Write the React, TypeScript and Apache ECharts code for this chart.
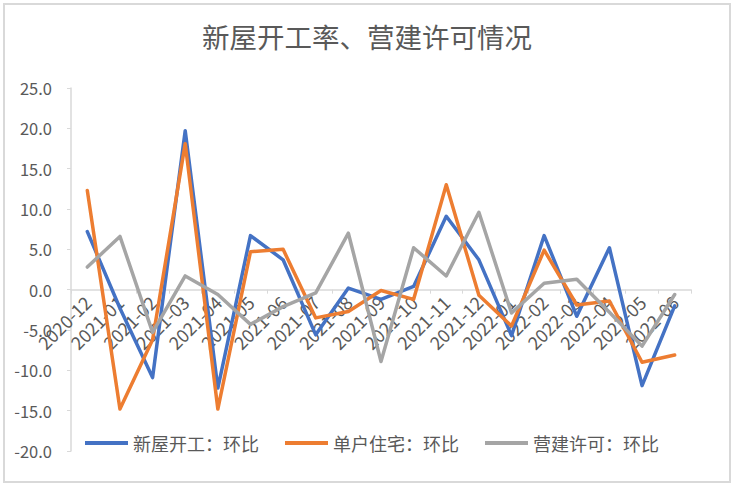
import React, { useRef, useEffect } from 'react';
import * as echarts from 'echarts';

const months = [
  '2020-12', '2021-01', '2021-02', '2021-03', '2021-04', '2021-05', '2021-06',
  '2021-07', '2021-08', '2021-09', '2021-10', '2021-11', '2021-12', '2022-01',
  '2022-02', '2022-03', '2022-04', '2022-05', '2022-06',
];
// 新屋开工：环比
const housingStarts = [7.2, -2.3, -10.9, 19.7, -12.2, 6.7, 3.7, -5.6, 0.2, -1.2, 0.4, 9.1, 3.7, -5.7, 6.7, -3.3, 5.2, -11.9, -2.0];
// 单户住宅：环比
const singleFamily = [12.3, -14.8, -6.2, 18.1, -14.8, 4.7, 5.0, -3.5, -2.7, -0.1, -1.2, 13.0, -0.7, -4.5, 4.9, -1.9, -1.4, -9.0, -8.1];
// 营建许可：环比
const permits = [2.8, 6.6, -5.3, 1.7, -0.6, -4.3, -2.1, -0.4, 7.0, -8.9, 5.2, 1.7, 9.6, -2.9, 0.8, 1.3, -2.8, -7.0, -0.6];

const Y_MIN = -20;
const Y_MAX = 25;

const FONT = '"Noto Sans CJK SC", "Noto Sans", sans-serif';
const TEXT = '#595959';
const LINE = '#d9d9d9';

const W = 734;
const H = 486;
const GRID = { left: 71, right: 43, top: 88, bottom: 35 };

const App: React.FC = () => {
  const chartRef = useRef<HTMLDivElement>(null);

  useEffect(() => {
    if (!chartRef.current) return;
    const chart = echarts.init(chartRef.current, undefined, { renderer: 'svg' });

    const line = (name: string, data: number[], color: string) => ({
      name,
      type: 'line',
      data,
      showSymbol: false,
      symbol: 'none',
      itemStyle: { color },
      lineStyle: { color, width: 3.5, join: 'round', cap: 'round' },
    });

    // 横轴放在 0 值处（Excel 的“坐标轴交叉于 0”）
    const plotH = H - GRID.top - GRID.bottom;
    const zeroOffset = -(plotH * (0 - Y_MIN)) / (Y_MAX - Y_MIN);

    chart.setOption({
      animation: false,
      textStyle: { fontFamily: FONT },
      graphic: [
        {
          type: 'rect',
          shape: { x: 4, y: 4, width: 726, height: 478 },
          style: { fill: 'none', stroke: LINE, lineWidth: 2 },
          silent: true,
        },
      ],
      title: {
        text: '新屋开工率、营建许可情况',
        left: 'center',
        top: 17,
        textStyle: { fontFamily: FONT, fontSize: 27.5, fontWeight: 'normal', color: TEXT },
      },
      legend: {
        left: 80,
        top: 429,
        icon: 'rect',
        itemWidth: 43,
        itemHeight: 4,
        itemGap: 26,
        textStyle: { fontFamily: FONT, fontSize: 18, color: TEXT },
        data: ['新屋开工：环比', '单户住宅：环比', '营建许可：环比'],
      },
      grid: { ...GRID, containLabel: false },
      xAxis: {
        type: 'category',
        data: months,
        boundaryGap: true,
        offset: zeroOffset,
        axisLine: { onZero: false, lineStyle: { color: LINE, width: 1.5 } },
        axisTick: { show: true, length: 4, lineStyle: { color: LINE } },
        axisLabel: { interval: 0, rotate: 45, margin: 9, fontSize: 18, color: TEXT, fontFamily: FONT },
        splitLine: { show: false },
      },
      yAxis: {
        type: 'value',
        min: Y_MIN,
        max: Y_MAX,
        interval: 5,
        axisLine: { show: true, lineStyle: { color: LINE, width: 1.5 } },
        axisTick: { show: true, length: 4, lineStyle: { color: LINE } },
        axisLabel: {
          fontSize: 16.5,
          color: TEXT,
          margin: 19,
          fontFamily: FONT,
          formatter: (v: number) => v.toFixed(1),
        },
        splitLine: { show: false },
      },
      series: [
        line('新屋开工：环比', housingStarts, '#4472C4'),
        line('单户住宅：环比', singleFamily, '#ED7D31'),
        line('营建许可：环比', permits, '#A5A5A5'),
      ],
    });

    return () => chart.dispose();
  }, []);

  return (
    <div style={{ position: 'fixed', left: 0, top: 0, width: W, height: H, background: '#fff' }}>
      <div ref={chartRef} style={{ width: W, height: H }} />
    </div>
  );
};

export default App;
